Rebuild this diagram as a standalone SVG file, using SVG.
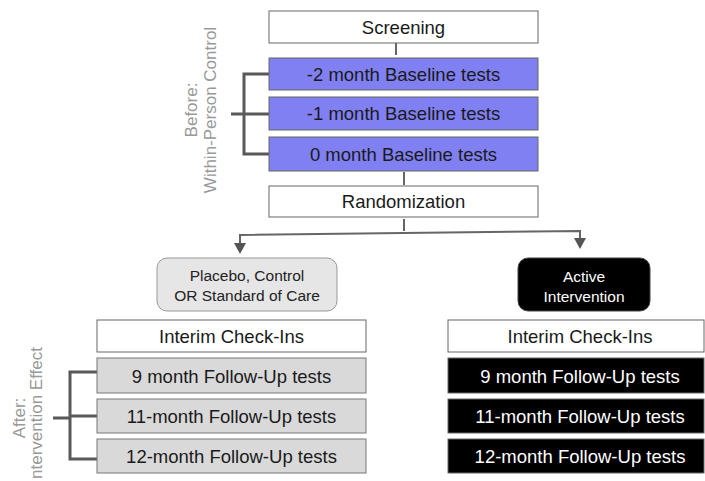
<svg xmlns="http://www.w3.org/2000/svg" width="705" height="481" viewBox="0 0 705 481">
<style>
text{font-family:"Liberation Sans",Arial,sans-serif;}
.t{font-size:18.5px;fill:#1a1a1a;text-anchor:middle;}
.s{font-size:15.5px;text-anchor:middle;}
.w{fill:#fff;stroke:#666;stroke-width:1;}
.p{fill:#8080f2;stroke:#666;stroke-width:1;}
.g{fill:#d9d9d9;stroke:#777;stroke-width:1;}
.b{fill:#000;stroke:#666;stroke-width:1;}
.br{fill:none;stroke:#595959;stroke-width:3;}
.ln{fill:none;stroke:#666;stroke-width:2;}
.side{font-size:17px;fill:#999;text-anchor:middle;}
</style>
<g id="connectors">
<line class="ln" x1="396" y1="43" x2="396" y2="55"/>
<line class="ln" x1="404" y1="172" x2="404" y2="185"/>
<line class="ln" x1="404" y1="219" x2="404" y2="231"/>
<path class="ln" d="M240,245 L240,235 L580,231 L580,240"/>
<path d="M234,243 L246,243 L240,254 Z" fill="#555"/>
<path d="M574,238 L586,238 L580,249 Z" fill="#555"/>
<path class="br" d="M269,74 L244,74 L244,154 L269,154 M244,114 L269,114 M231,114 L244,114"/>
<path class="br" d="M97,372 L70,372 L70,459 L97,459 M70,416 L97,416 M53,418 L70,418"/>
</g>
<g id="screening"><rect class="w" x="269" y="11" width="269" height="32"/><text class="t" x="403.5" y="34">Screening</text></g>
<g id="baseline-2"><rect class="p" x="269" y="58" width="269" height="32"/><text class="t" x="403.5" y="81">-2 month Baseline tests</text></g>
<g id="baseline-1"><rect class="p" x="269" y="97" width="269" height="33"/><text class="t" x="403.5" y="120">-1 month Baseline tests</text></g>
<g id="baseline-0"><rect class="p" x="269" y="137" width="269" height="34"/><text class="t" x="403.5" y="161">0 month Baseline tests</text></g>
<g id="randomization"><rect class="w" x="269" y="186" width="269" height="31"/><text class="t" x="403.5" y="208">Randomization</text></g>
<g id="before-label">
<text class="side" transform="translate(197,110) rotate(-90)">Before:</text>
<text class="side" transform="translate(216,110) rotate(-90)">Within-Person Control</text>
</g>
<g id="placebo"><rect x="157" y="258" width="180" height="53" rx="10" fill="#e6e6e6" stroke="#999" stroke-width="1"/><text class="s" x="247" y="281" fill="#222">Placebo, Control</text><text class="s" x="247" y="301" fill="#222">OR Standard of Care</text></g>
<g id="active"><rect x="518" y="258" width="132" height="53" rx="10" fill="#000" stroke="#444" stroke-width="1"/><text class="s" x="584" y="282" fill="#fff">Active</text><text class="s" x="584" y="302" fill="#fff">Intervention</text></g>
<g id="interim-left"><rect class="w" x="97" y="320" width="269" height="32"/><text class="t" x="231.5" y="343">Interim Check-Ins</text></g>
<g id="fu9-left"><rect class="g" x="97" y="358" width="269" height="35"/><text class="t" x="231.5" y="383">9 month Follow-Up tests</text></g>
<g id="fu11-left"><rect class="g" x="97" y="399" width="269" height="34"/><text class="t" x="231.5" y="423">11-month Follow-Up tests</text></g>
<g id="fu12-left"><rect class="g" x="97" y="439" width="269" height="34"/><text class="t" x="231.5" y="463">12-month Follow-Up tests</text></g>
<g id="interim-right"><rect class="w" x="448" y="320" width="256" height="32"/><text class="t" x="580" y="343">Interim Check-Ins</text></g>
<g id="fu9-right"><rect class="b" x="448" y="358" width="256" height="35"/><text class="t" x="580" y="383" style="fill:#fff">9 month Follow-Up tests</text></g>
<g id="fu11-right"><rect class="b" x="448" y="399" width="256" height="34"/><text class="t" x="580" y="423" style="fill:#fff">11-month Follow-Up tests</text></g>
<g id="fu12-right"><rect class="b" x="448" y="439" width="256" height="34"/><text class="t" x="580" y="463" style="fill:#fff">12-month Follow-Up tests</text></g>
<g id="after-label">
<text class="side" transform="translate(25,418) rotate(-90)">After:</text>
<text class="side" style="text-anchor:start" transform="translate(42,479) rotate(-90)">ntervention Effect</text>
</g>
</svg>
